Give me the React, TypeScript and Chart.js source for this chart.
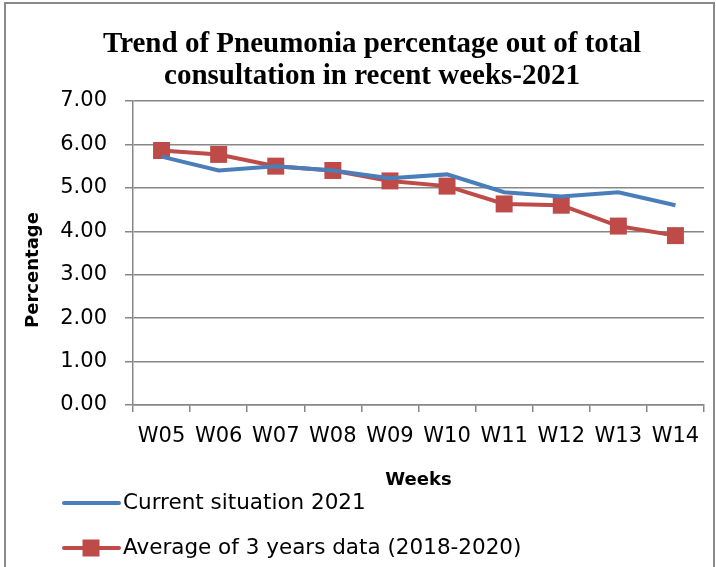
import React, { useEffect, useRef } from "react";
import { Chart, registerables } from "chart.js";

Chart.register(...registerables);

const weeks = ["W05", "W06", "W07", "W08", "W09", "W10", "W11", "W12", "W13", "W14"];
const current2021 = [5.72, 5.4, 5.5, 5.4, 5.22, 5.31, 4.9, 4.8, 4.9, 4.6];
const average3yr = [5.86, 5.77, 5.5, 5.4, 5.16, 5.04, 4.63, 4.6, 4.12, 3.9];
const yTicks = [0, 1, 2, 3, 4, 5, 6, 7];
const titleLines = ["Trend of Pneumonia percentage out of total", "consultation in recent weeks-2021"];
const seriesNames = ["Current situation 2021", "Average of 3 years data (2018-2020)"];
const xTitle = "Weeks";
const yTitle = "Percentage";

const BLUE = "#4A7EBB";
const RED = "#BE4B48";
const GRID = "#878787";
const SANS = '"DejaVu Sans"';

const decorPlugin = {
  id: "decor",
  beforeDraw(chart: any) {
    const ctx = chart.ctx;
    ctx.save();
    ctx.fillStyle = "#ffffff";
    ctx.fillRect(0, 0, chart.width, chart.height);
    ctx.strokeStyle = "#8a8a8a";
    ctx.lineWidth = 2;
    ctx.strokeRect(5, 3, 709, chart.height + 10);
    ctx.restore();
  },
  afterDraw(chart: any) {
    const ctx = chart.ctx;
    ctx.save();
    // main title
    ctx.fillStyle = "#000";
    ctx.textAlign = "center";
    ctx.textBaseline = "middle";
    ctx.font = 'bold 29px "Liberation Serif"';
    ctx.fillText(titleLines[0], 372, 45);
    ctx.fillText(titleLines[1], 372, 77);
    // y axis title
    ctx.save();
    ctx.translate(33, 270);
    ctx.rotate(-Math.PI / 2);
    ctx.font = `bold 18px ${SANS}`;
    ctx.fillText(yTitle, 0, 0);
    ctx.restore();
    // legend
    const ds = chart.data.datasets;
    const rows = [503, 548];
    ds.forEach((d: any, i: number) => {
      const y = rows[i];
      ctx.strokeStyle = d.borderColor;
      ctx.lineWidth = 4;
      ctx.lineCap = "round";
      ctx.beginPath();
      ctx.moveTo(64, y);
      ctx.lineTo(119, y);
      ctx.stroke();
      if (d.pointRadius > 0) {
        ctx.fillStyle = d.pointBackgroundColor;
        ctx.fillRect(91 - 8.5, y - 8.5, 17, 17);
      }
      ctx.fillStyle = "#000";
      ctx.textAlign = "left";
      ctx.textBaseline = "middle";
      ctx.font = `21.5px ${SANS}`;
      ctx.fillText(d.label, 123, y);
    });
    ctx.restore();
  },
};

export default function App() {
  const ref = useRef<HTMLCanvasElement | null>(null);
  useEffect(() => {
    if (!ref.current) return;
    const chart = new Chart(ref.current, {
      type: "line",
      data: {
        labels: weeks,
        datasets: [
          {
            label: seriesNames[0],
            data: current2021,
            borderColor: BLUE,
            backgroundColor: BLUE,
            borderWidth: 4,
            pointRadius: 0,
            pointHoverRadius: 0,
            tension: 0,
          },
          {
            label: seriesNames[1],
            data: average3yr,
            borderColor: RED,
            backgroundColor: RED,
            pointBackgroundColor: RED,
            pointBorderColor: RED,
            borderWidth: 4,
            pointStyle: "rect",
            pointRadius: 12,
            pointBorderWidth: 0,
            tension: 0,
          },
        ],
      },
      options: {
        animation: false,
        responsive: false,
        layout: { padding: { left: 0, right: 5, top: 101, bottom: 76 } },
        plugins: {
          legend: { display: false },
          title: { display: false },
          tooltip: { enabled: false },
        },
        scales: {
          x: {
            offset: true,
            grid: {
              display: true,
              offset: true,
              drawOnChartArea: false,
              drawTicks: true,
              tickLength: 7,
              color: GRID,
              lineWidth: 1.5,
            },
            border: { color: GRID, width: 1.5 },
            ticks: { color: "#000", font: { family: "DejaVu Sans", size: 21 }, padding: 12, maxRotation: 0, autoSkip: false },
            title: { display: true, text: xTitle, color: "#000", font: { family: "DejaVu Sans", size: 18, weight: "bold" }, padding: 0 },
            afterFit(scale: any) {
              scale.height = 86;
              scale.paddingLeft = 0;
              scale.paddingRight = 0;
            },
          },
          y: {
            min: 0,
            max: 7,
            afterBuildTicks(scale: any) {
              scale.ticks = yTicks.map((v) => ({ value: v }));
            },
            grid: { color: GRID, lineWidth: 1.5, tickLength: 8, drawTicks: true },
            border: { color: GRID, width: 1.5 },
            ticks: {
              color: "#000",
              font: { family: "DejaVu Sans", size: 21 },
              padding: 18,
              callback: (v: any) => Number(v).toFixed(2),
            },
            afterFit(scale: any) {
              scale.width = 133;
              scale.paddingTop = 0;
              scale.paddingBottom = 0;
            },
          },
        },
      },
      plugins: [decorPlugin],
    } as any);
    return () => chart.destroy();
  }, []);
  return (
    <div style={{ position: "fixed", left: 0, top: 0, width: 716, height: 567, background: "#fff" }}>
      <canvas ref={ref} width={716} height={567} style={{ width: 716, height: 567, display: "block" }} />
    </div>
  );
}
